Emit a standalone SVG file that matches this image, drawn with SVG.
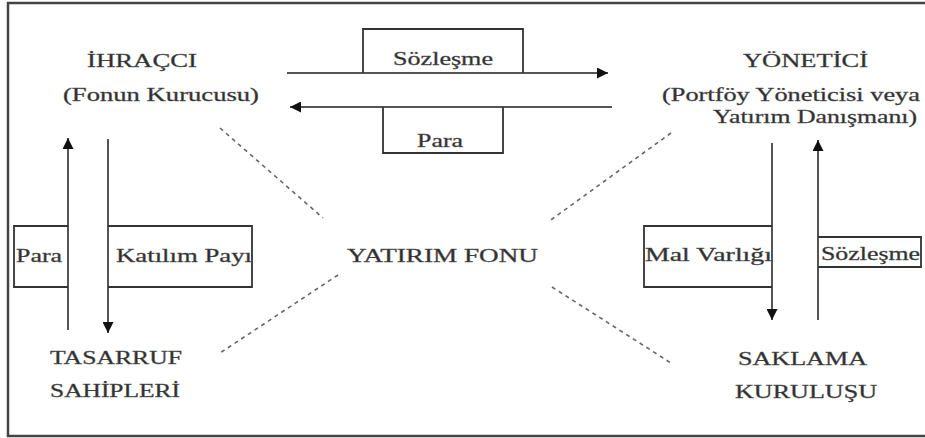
<svg xmlns="http://www.w3.org/2000/svg" width="925" height="438" viewBox="0 0 925 438">
<style>
  text { font-family: "Liberation Serif", "Times New Roman", serif; font-size: 18.5px; fill: #2e2e2e; stroke: #555; stroke-width: 0.35; }
  .ln { stroke: #555; stroke-width: 2; fill: none; }
  .box { stroke: #333; stroke-width: 1.8; fill: none; }
  .dash { stroke: #666; stroke-width: 1.6; stroke-dasharray: 4 4; fill: none; }
</style>
<defs>
  <marker id="ah" viewBox="0 0 10 10" refX="10" refY="5" markerWidth="11" markerHeight="11" markerUnits="userSpaceOnUse" orient="auto">
    <path d="M0,0 L10,5 L0,10 z" fill="#111"/>
  </marker>
</defs>
<rect width="925" height="438" fill="#fff"/>
<rect x="8" y="3" width="935" height="433" fill="none" stroke="#444" stroke-width="2.5"/>

<g id="ihracci">
  <text x="87" y="67" textLength="110" lengthAdjust="spacingAndGlyphs">İHRAÇCI</text>
  <text x="63" y="101" textLength="196" lengthAdjust="spacingAndGlyphs">(Fonun Kurucusu)</text>
</g>
<g id="yonetici">
  <text x="743" y="67" textLength="125" lengthAdjust="spacingAndGlyphs">YÖNETİCİ</text>
  <text x="662" y="101" textLength="258" lengthAdjust="spacingAndGlyphs">(Portföy Yöneticisi veya</text>
  <text x="713" y="123" textLength="204" lengthAdjust="spacingAndGlyphs">Yatırım Danışmanı)</text>
</g>
<g id="yatirim-fonu">
  <text x="347" y="262" textLength="191" lengthAdjust="spacingAndGlyphs">YATIRIM FONU</text>
</g>
<g id="tasarruf">
  <text x="50" y="364" textLength="132" lengthAdjust="spacingAndGlyphs">TASARRUF</text>
  <text x="50" y="397" textLength="130" lengthAdjust="spacingAndGlyphs">SAHİPLERİ</text>
</g>
<g id="saklama">
  <text x="738" y="365" textLength="129" lengthAdjust="spacingAndGlyphs">SAKLAMA</text>
  <text x="735" y="398" textLength="142" lengthAdjust="spacingAndGlyphs">KURULUŞU</text>
</g>

<g id="connectors">
  <path class="ln" d="M287,73 L608,73" marker-end="url(#ah)"/>
  <path class="ln" d="M612,107 L290,107" marker-end="url(#ah)"/>
  <path class="ln" d="M68,330 L68,138" marker-end="url(#ah)"/>
  <path class="ln" d="M108,139 L108,333" marker-end="url(#ah)"/>
  <path class="ln" d="M772,143 L772,320" marker-end="url(#ah)"/>
  <path class="ln" d="M818,320 L818,140" marker-end="url(#ah)"/>
  <path class="dash" d="M220,128 L323,218"/>
  <path class="dash" d="M671,133 L548,222"/>
  <path class="dash" d="M338,275 L220,353"/>
  <path class="dash" d="M552,287 L671,363"/>
</g>

<g id="label-sozlesme-top">
  <path class="box" d="M363,73 L363,29 L523,29 L523,73"/>
  <text x="393" y="65" textLength="100" lengthAdjust="spacingAndGlyphs">Sözleşme</text>
</g>
<g id="label-para-top">
  <path class="box" d="M383,107 L383,153 L503,153 L503,107"/>
  <text x="417" y="147" textLength="46" lengthAdjust="spacingAndGlyphs">Para</text>
</g>
<g id="label-para-left">
  <path class="box" d="M68,226 L14,226 L14,287 L68,287"/>
  <text x="16" y="262" textLength="46" lengthAdjust="spacingAndGlyphs">Para</text>
</g>
<g id="label-katilim">
  <path class="box" d="M108,226 L252,226 L252,287 L108,287"/>
  <text x="116" y="262" textLength="136" lengthAdjust="spacingAndGlyphs">Katılım Payı</text>
</g>
<g id="label-mal-varligi">
  <path class="box" d="M772,226 L644,226 L644,287 L772,287"/>
  <text x="645" y="261" textLength="127" lengthAdjust="spacingAndGlyphs">Mal Varlığı</text>
</g>
<g id="label-sozlesme-right">
  <path class="box" d="M818,237 L921,237 L921,267 L818,267"/>
  <text x="821" y="260" textLength="99" lengthAdjust="spacingAndGlyphs">Sözleşme</text>
</g>
</svg>
